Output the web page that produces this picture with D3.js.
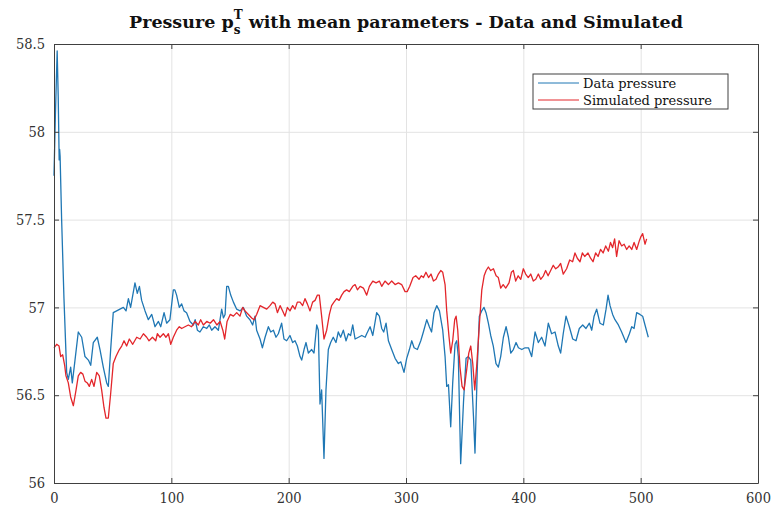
<!DOCTYPE html>
<html>
<head>
<meta charset="utf-8">
<script src="https://cdn.jsdelivr.net/npm/d3@7"></script>
<style>
  body { margin: 0; background: #fff; }
</style>
</head>
<body>
<div id="chart"></div>
<script>
// ---------------- data ----------------
var dataX = [0, 1.2, 2.7, 3.6, 4.4, 4.8, 5.2, 6.5, 8.5, 10.8, 12.2, 14.2, 15.6, 17.9, 20.7, 23.6, 26.4, 29.3, 31.3, 33.5, 36.9, 39.2, 42, 44.9, 46.3, 48.3, 50.5, 53.4, 56.2, 59.1, 61.4, 63.4, 65.3, 69, 71, 72.8, 74.7, 77.6, 80.4, 83.3, 86.1, 89, 91, 93.8, 96, 98.8, 101.7, 103, 104.5, 106.8, 108.8, 110.8, 113, 115.9, 118.8, 120.3, 122.2, 124.4, 127.3, 130.2, 132.4, 134.4, 137.2, 140.1, 142.9, 144.4, 145.8, 147.2, 148.6, 150.6, 152.9, 155.7, 158.6, 161.4, 164.2, 167, 169.3, 171.3, 172.7, 175.6, 177.6, 179.9, 182.7, 184.7, 187, 189.2, 191.2, 194, 196, 198.3, 201.1, 203.4, 205.4, 207.4, 209.7, 211.1, 213.1, 214.8, 216.8, 219.6, 221.6, 223.9, 225.3, 226.7, 228.1, 230.1, 231.8, 233.8, 235.8, 238, 240.3, 242.3, 244.3, 246.6, 248.9, 250.9, 252.8, 254.6, 256.6, 259.5, 262.3, 265.2, 266.5, 269.4, 271.7, 275, 277.3, 279.3, 281, 283, 285, 287.8, 290.7, 293.5, 295.6, 298.3, 300.6, 302.9, 304.9, 306.9, 309.7, 312.6, 314.8, 317.7, 319.9, 321.8, 323.9, 326.2, 328.5, 331.3, 333.3, 334.7, 336.2, 338.1, 339.8, 341.8, 343.2, 344.6, 346.6, 349, 351.2, 353.2, 355.2, 357.5, 358.8, 360.8, 362.5, 364.5, 366.5, 368.2, 370.2, 372.2, 374.4, 376.7, 378.7, 380.7, 383, 385.3, 387.3, 389.3, 391.5, 393.8, 395.8, 398.7, 401.5, 404.4, 407.1, 410, 412.8, 415.6, 418.5, 421.3, 424.1, 427, 429.8, 431.8, 434, 436.4, 439.2, 442.1, 444.9, 447.7, 450.6, 453.4, 456.3, 458.3, 460.3, 462.5, 465.3, 468.2, 470.5, 472.2, 473.9, 476.1, 478.1, 481, 483.8, 487.5, 490.4, 492.4, 494.4, 496.6, 499.4, 501.7, 503.7, 506.5];
var dataY = [57.75, 58.1, 58.46, 58.2, 57.84, 57.9, 57.86, 57.5, 57.05, 56.63, 56.59, 56.66, 56.57, 56.70, 56.86, 56.83, 56.72, 56.70, 56.67, 56.80, 56.83, 56.76, 56.66, 56.57, 56.55, 56.76, 56.97, 56.98, 56.99, 57.00, 56.98, 57.05, 57.00, 57.14, 57.08, 57.12, 57.04, 56.98, 56.93, 56.96, 56.89, 56.92, 56.89, 56.97, 56.91, 56.93, 57.10, 57.10, 57.07, 57.00, 57.02, 56.98, 56.97, 56.92, 56.90, 56.93, 56.87, 56.86, 56.89, 56.88, 56.90, 56.87, 56.89, 56.87, 56.99, 56.94, 56.96, 57.12, 57.12, 57.07, 57.03, 56.99, 56.98, 57.00, 56.95, 56.93, 56.90, 56.95, 56.87, 56.82, 56.77, 56.83, 56.89, 56.86, 56.87, 56.83, 56.85, 56.91, 56.82, 56.81, 56.84, 56.80, 56.81, 56.78, 56.72, 56.70, 56.76, 56.80, 56.74, 56.76, 56.74, 56.90, 56.87, 56.45, 56.53, 56.14, 56.53, 56.76, 56.80, 56.83, 56.80, 56.86, 56.83, 56.87, 56.81, 56.85, 56.84, 56.90, 56.82, 56.83, 56.84, 56.83, 56.85, 56.89, 56.84, 56.97, 56.95, 56.88, 56.86, 56.91, 56.81, 56.76, 56.71, 56.68, 56.69, 56.63, 56.71, 56.76, 56.81, 56.77, 56.76, 56.81, 56.86, 56.93, 56.89, 56.86, 56.97, 57.01, 56.98, 56.87, 56.72, 56.55, 56.56, 56.32, 56.57, 56.79, 56.81, 56.72, 56.11, 56.46, 56.71, 56.72, 56.70, 56.38, 56.17, 56.66, 56.95, 56.98, 57.00, 56.97, 56.91, 56.84, 56.78, 56.68, 56.66, 56.72, 56.83, 56.89, 56.83, 56.74, 56.76, 56.80, 56.77, 56.76, 56.77, 56.77, 56.72, 56.86, 56.80, 56.83, 56.78, 56.91, 56.85, 56.86, 56.78, 56.74, 56.85, 56.95, 56.89, 56.82, 56.81, 56.88, 56.90, 56.88, 56.91, 56.87, 56.95, 56.99, 56.91, 56.90, 56.99, 57.07, 57.01, 56.96, 56.93, 56.90, 56.86, 56.80, 56.85, 56.89, 56.88, 56.97, 56.96, 56.95, 56.90, 56.83];

var simX = [0, 2.3, 4.3, 5.7, 7.4, 9.1, 10.2, 12.2, 14.2, 16.5, 18.8, 20.7, 22.7, 24.6, 26.4, 28.4, 30.1, 32.1, 34.1, 36.4, 38.6, 40.6, 42.6, 44.3, 46.3, 48.3, 50.5, 52.8, 55.7, 57.7, 59.7, 61.9, 64.2, 67.1, 70.5, 73.4, 76.2, 79, 81, 83.9, 86.7, 88.1, 90.4, 93.2, 95.4, 97.5, 99.5, 101.7, 104.5, 106.8, 108.8, 111.6, 114.5, 117.3, 120.3, 123, 125, 127.3, 130.2, 133.1, 135.9, 138.8, 141.6, 143.9, 145.5, 147.5, 150.2, 152.9, 155.7, 158.5, 160.8, 162.8, 165.7, 168.5, 170.5, 172.7, 175.6, 178.4, 181.3, 184.1, 186.4, 188.4, 190.4, 192.7, 194.9, 196.9, 198.9, 201.1, 203.4, 205.4, 207.4, 209.7, 211.9, 213.9, 215.9, 218.2, 220.4, 222.5, 224.5, 226.1, 228.1, 230.1, 232.4, 234.7, 236.6, 238.6, 240.9, 243, 245.2, 247.2, 249.4, 251.7, 254.6, 256.6, 258.6, 260.9, 263.7, 266.5, 268.8, 271.7, 274.5, 277.3, 279.3, 282.1, 285, 287.8, 290.7, 293.5, 296.3, 299.2, 301, 303.2, 306, 308.3, 311.1, 313, 314.9, 317, 319.2, 321.3, 323.4, 325.6, 327.6, 329.6, 331.3, 333.3, 334.7, 336.7, 338.1, 339.8, 341.5, 342.7, 344.1, 346, 347.8, 349.5, 351.8, 353.5, 355.2, 356.9, 358.6, 360.4, 362.6, 364.6, 366.6, 368.3, 370.2, 372.2, 374.5, 376.8, 378.7, 380.7, 382.8, 385, 387.8, 389.8, 391.5, 393.5, 395.6, 397.8, 400, 402, 404.2, 406.3, 408.5, 410.6, 412.8, 414.8, 417.1, 419, 421.1, 423.3, 425.5, 427.6, 429.6, 431.8, 434, 436.9, 439.5, 442, 444, 446, 448.3, 450.3, 452.3, 455.1, 457.3, 459.4, 461.6, 463.7, 465.8, 468, 470.2, 472.5, 474.3, 476.1, 477.8, 479.5, 481.6, 483.8, 485.9, 488.1, 490.2, 492.4, 494.4, 496.6, 498.9, 500, 501.7, 503.7, 505.1];
var simY = [56.77, 56.79, 56.78, 56.72, 56.73, 56.67, 56.61, 56.57, 56.49, 56.44, 56.53, 56.61, 56.63, 56.62, 56.58, 56.57, 56.55, 56.59, 56.55, 56.63, 56.61, 56.53, 56.43, 56.37, 56.37, 56.51, 56.68, 56.72, 56.76, 56.78, 56.81, 56.78, 56.82, 56.79, 56.83, 56.82, 56.85, 56.83, 56.81, 56.83, 56.81, 56.85, 56.83, 56.85, 56.83, 56.85, 56.79, 56.83, 56.87, 56.89, 56.88, 56.89, 56.90, 56.89, 56.92, 56.90, 56.93, 56.90, 56.92, 56.91, 56.93, 56.90, 56.92, 56.87, 56.82, 56.92, 56.96, 56.95, 56.97, 56.95, 57.00, 56.98, 56.96, 56.94, 56.93, 56.96, 57.01, 57.00, 56.99, 57.01, 57.03, 57.02, 56.97, 57.01, 56.98, 56.95, 57.00, 56.98, 57.01, 56.99, 57.03, 57.03, 57.01, 57.05, 57.02, 56.98, 57.03, 57.04, 57.07, 57.07, 56.95, 56.82, 56.87, 56.96, 57.01, 57.03, 57.05, 57.04, 57.07, 57.09, 57.10, 57.09, 57.12, 57.13, 57.10, 57.12, 57.11, 57.07, 57.12, 57.15, 57.14, 57.15, 57.12, 57.15, 57.13, 57.15, 57.13, 57.14, 57.13, 57.09, 57.09, 57.12, 57.17, 57.18, 57.16, 57.18, 57.17, 57.20, 57.17, 57.19, 57.15, 57.16, 57.19, 57.21, 57.20, 57.13, 56.98, 56.83, 56.74, 56.81, 56.93, 56.95, 56.87, 56.66, 56.55, 56.53, 56.65, 56.74, 56.78, 56.68, 56.53, 56.68, 56.91, 57.10, 57.18, 57.21, 57.23, 57.21, 57.22, 57.18, 57.17, 57.11, 57.13, 57.11, 57.14, 57.20, 57.21, 57.15, 57.18, 57.16, 57.22, 57.19, 57.17, 57.19, 57.15, 57.16, 57.19, 57.16, 57.18, 57.21, 57.18, 57.21, 57.24, 57.22, 57.23, 57.25, 57.19, 57.22, 57.27, 57.26, 57.31, 57.28, 57.26, 57.31, 57.29, 57.31, 57.28, 57.26, 57.31, 57.29, 57.33, 57.31, 57.35, 57.32, 57.37, 57.34, 57.39, 57.29, 57.38, 57.35, 57.36, 57.33, 57.35, 57.33, 57.37, 57.33, 57.38, 57.40, 57.42, 57.36, 57.39, 57.38];

var xTicks = [0, 100, 200, 300, 400, 500, 600];
var yTicks = [56, 56.5, 57, 57.5, 58, 58.5];
var seriesNames = ['Data pressure', 'Simulated pressure'];

// ---------------- chart ----------------
var attrs = {
    svgWidth: 775,
    svgHeight: 507,
    marginTop: 44,
    marginBottom: 24,
    marginLeft: 54,
    marginRight: 17,
    fontFamily: 'DejaVu Serif Condensed',
    textFill: '#333333',
    gridColor: '#e3e3e3',
    axisColor: '#404040',
    blue: '#1f77b4',
    red: '#e3262b'
};

var calc = {};
calc.chartWidth = attrs.svgWidth - attrs.marginLeft - attrs.marginRight;
calc.chartHeight = attrs.svgHeight - attrs.marginTop - attrs.marginBottom;

var svg = d3.select('#chart').append('svg')
    .attr('width', attrs.svgWidth)
    .attr('height', attrs.svgHeight)
    .attr('font-family', attrs.fontFamily)
    .style('background-color', '#fff');

var chart = svg.append('g')
    .attr('transform', 'translate(' + attrs.marginLeft + ',' + attrs.marginTop + ')');

var x = d3.scaleLinear().domain([0, 600]).range([0, calc.chartWidth]);
var y = d3.scaleLinear().domain([56, 58.5]).range([calc.chartHeight, 0]);

// grid
chart.append('g').attr('class', 'grid')
    .attr('transform', 'translate(0,' + calc.chartHeight + ')')
    .call(d3.axisBottom(x).tickValues(xTicks.slice(1, -1)).tickSize(-calc.chartHeight).tickFormat(''));

chart.append('g').attr('class', 'grid')
    .call(d3.axisLeft(y).tickValues(yTicks.slice(1, -1)).tickSize(-calc.chartWidth).tickFormat(''));

chart.selectAll('.grid .domain').remove();
chart.selectAll('.grid line').attr('stroke', attrs.gridColor);

// lines
var lineGen = d3.line().x(d => x(d[0])).y(d => y(d[1]));

var series = [
    { name: seriesNames[0], color: attrs.blue, values: d3.zip(dataX, dataY) },
    { name: seriesNames[1], color: attrs.red, values: d3.zip(simX, simY) }
];

chart.selectAll('.series').data(series).enter().append('path')
    .attr('class', 'series')
    .attr('d', d => lineGen(d.values))
    .attr('fill', 'none')
    .attr('stroke', d => d.color)
    .attr('stroke-width', 1.3)
    .attr('stroke-linejoin', 'round');

// axes (ticks inward, box all round)
chart.append('g').attr('class', 'axis')
    .attr('transform', 'translate(0,' + calc.chartHeight + ')')
    .call(d3.axisBottom(x).tickValues(xTicks).tickSize(-5).tickPadding(10).tickSizeOuter(0));
chart.append('g').attr('class', 'axis')
    .call(d3.axisLeft(y).tickValues(yTicks).tickSize(-5).tickPadding(9).tickSizeOuter(0)
        .tickFormat(d3.format('')));
chart.append('g').attr('class', 'axis')
    .call(d3.axisTop(x).tickValues(xTicks).tickSize(-5).tickFormat('').tickSizeOuter(0));
chart.append('g').attr('class', 'axis')
    .attr('transform', 'translate(' + calc.chartWidth + ',0)')
    .call(d3.axisRight(y).tickValues(yTicks).tickSize(-5).tickFormat('').tickSizeOuter(0));

chart.selectAll('.axis .domain, .axis .tick line').attr('stroke', attrs.axisColor);
chart.selectAll('.axis .tick text')
    .attr('font-family', attrs.fontFamily)
    .attr('font-size', 14.5)
    .attr('fill', attrs.textFill);

// title with stacked sub/superscript
var title = svg.append('text')
    .attr('x', attrs.marginLeft + calc.chartWidth / 2)
    .attr('y', 28)
    .attr('text-anchor', 'middle')
    .attr('font-family', 'DejaVu Serif')
    .attr('font-weight', 'bold')
    .attr('font-size', 17.5)
    .attr('fill', '#111');

title.append('tspan').text('Pressure p');
var sub = title.append('tspan').attr('dy', 6).attr('font-size', 12).text('s');
var sw = sub.node().getComputedTextLength();
title.append('tspan').attr('dx', -sw).attr('dy', -15).attr('font-size', 12).text('T');
title.append('tspan').attr('dy', 9).text(' with mean parameters - Data and Simulated');

// legend
var legend = svg.append('g').attr('transform', 'translate(533,74)');
legend.append('rect')
    .attr('width', 195).attr('height', 35)
    .attr('fill', '#fff').attr('stroke', attrs.axisColor);

var items = legend.selectAll('.item').data(series).enter().append('g')
    .attr('transform', (d, i) => 'translate(0,' + (9 + i * 17) + ')');
items.append('line')
    .attr('x1', 5).attr('x2', 46)
    .attr('stroke', d => d.color).attr('stroke-width', 1);
items.append('text')
    .attr('x', 50).attr('dy', '0.35em')
    .attr('font-family', 'DejaVu Serif')
    .attr('font-size', 13)
    .attr('fill', '#111')
    .text(d => d.name);
</script>
</body>
</html>
